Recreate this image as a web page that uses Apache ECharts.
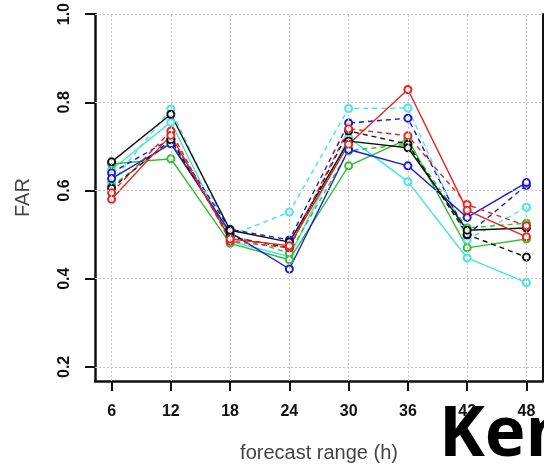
<!DOCTYPE html>
<html>
<head>
<meta charset="utf-8">
<script src="https://cdn.jsdelivr.net/npm/echarts@6/dist/echarts.min.js"></script>
<style>
  html, body { margin: 0; padding: 0; background: #ffffff; }
  #chart { width: 544px; height: 468px; }
</style>
</head>
<body>
<div id="chart"></div>
<script>
// Forecast lead times (hours) and axis tick values
const hours = [6, 12, 18, 24, 30, 36, 42, 48];
const farTicks = [0.2, 0.4, 0.6, 0.8, 1.0];

// FAR per lead time for each run (solid / dashed pairs per colour)
const blackSolid = [0.665, 0.773, 0.510, 0.483, 0.712, 0.697, 0.510, 0.515];
const blackDashed = [0.605, 0.715, 0.495, 0.470, 0.735, 0.705, 0.500, 0.449];
const redSolid = [0.580, 0.725, 0.490, 0.475, 0.705, 0.829, 0.555, 0.495];
const redDashed = [0.595, 0.735, 0.485, 0.470, 0.740, 0.724, 0.568, 0.520];
const greenSolid = [0.660, 0.672, 0.480, 0.443, 0.656, 0.717, 0.470, 0.490];
const greenDashed = [0.610, 0.710, 0.500, 0.458, 0.690, 0.705, 0.515, 0.526];
const blueSolid = [0.627, 0.706, 0.505, 0.422, 0.693, 0.656, 0.539, 0.618];
const blueDashed = [0.640, 0.717, 0.512, 0.488, 0.753, 0.764, 0.499, 0.612];
const cyanSolid = [0.647, 0.755, 0.485, 0.450, 0.720, 0.620, 0.447, 0.391];
const cyanDashed = [0.618, 0.785, 0.498, 0.551, 0.786, 0.787, 0.488, 0.562];

const runs = [
  { values: cyanDashed, color: '#3ee6e6', dashed: true },
  { values: cyanSolid, color: '#3ee6e6', dashed: false },
  { values: greenDashed, color: '#30c030', dashed: true },
  { values: greenSolid, color: '#30c030', dashed: false },
  { values: blueDashed, color: '#1a1ad8', dashed: true },
  { values: blueSolid, color: '#1a1ad8', dashed: false },
  { values: blackDashed, color: '#111111', dashed: true },
  { values: blackSolid, color: '#111111', dashed: false },
  { values: redDashed, color: '#e8221e', dashed: true },
  { values: redSolid, color: '#e8221e', dashed: false }
];

const gridLine = { color: '#c4c4c4', type: [2, 2], width: 1 };

const series = [
  {
    // dotted reference grid at every tick
    type: 'line',
    data: [],
    silent: true,
    z: 1,
    markLine: {
      silent: true,
      symbol: ['none', 'none'],
      label: { show: false },
      lineStyle: gridLine,
      animation: false,
      data: hours.map(h => ({ xAxis: h })).concat(farTicks.map(v => ({ yAxis: v })))
    }
  }
].concat(runs.map(r => ({
  type: 'line',
  z: 3,
  data: hours.map((h, i) => [h, r.values[i]]),
  symbol: 'emptyCircle',
  symbolSize: 7,
  lineStyle: { color: r.color, width: 1.4, type: r.dashed ? [5, 4] : 'solid' },
  itemStyle: { color: r.color, borderColor: r.color, borderWidth: 2 }
})));

const chart = echarts.init(document.getElementById('chart'), null, { renderer: 'canvas' });
chart.setOption({
  animation: false,
  backgroundColor: '#ffffff',
  grid: { left: 95, right: 1, top: 12, bottom: 85 },
  xAxis: {
    type: 'value',
    min: 4.32,
    max: 49.68,
    name: 'forecast range (h)',
    nameLocation: 'middle',
    nameGap: 62,
    nameTextStyle: { fontFamily: 'Liberation Sans', fontSize: 20, color: '#444444' },
    axisLine: { show: true, lineStyle: { color: '#111111', width: 2.5 } },
    axisTick: { show: true, customValues: hours, length: 10, lineStyle: { color: '#111111', width: 2 } },
    axisLabel: {
      customValues: hours, margin: 23,
      fontFamily: 'Liberation Sans', fontWeight: 'bold', fontSize: 16, color: '#111111'
    },
    splitLine: { show: false }
  },
  yAxis: [
    {
      type: 'value',
      min: 0.168,
      max: 1.0,
      name: 'FAR',
      nameLocation: 'middle',
      nameGap: 62,
      nameRotate: 90,
      nameTextStyle: { fontFamily: 'Liberation Sans', fontSize: 20, color: '#444444' },
      axisLine: { show: true, lineStyle: { color: '#111111', width: 2.5 } },
      axisTick: { show: true, customValues: farTicks, length: 10, lineStyle: { color: '#111111', width: 2 } },
      axisLabel: {
        customValues: farTicks, rotate: 90, margin: 22,
        formatter: v => v.toFixed(1),
        fontFamily: 'Liberation Sans', fontWeight: 'bold', fontSize: 16, color: '#111111'
      },
      splitLine: { show: false }
    },
    {
      // right frame edge
      type: 'value',
      position: 'right',
      min: 0.168,
      max: 1.0,
      axisLine: { show: true, lineStyle: { color: '#111111', width: 2 } },
      axisTick: { show: false },
      axisLabel: { show: false },
      splitLine: { show: false }
    }
  ],
  graphic: [
    {
      type: 'text',
      z: 100,
      style: {
        x: 439,
        y: 436,
        text: 'Ken',
        verticalAlign: 'middle',
        font: 'bold 69px "Open Sans"',
        fill: '#000000'
      }
    }
  ],
  series: series
});
</script>
</body>
</html>
